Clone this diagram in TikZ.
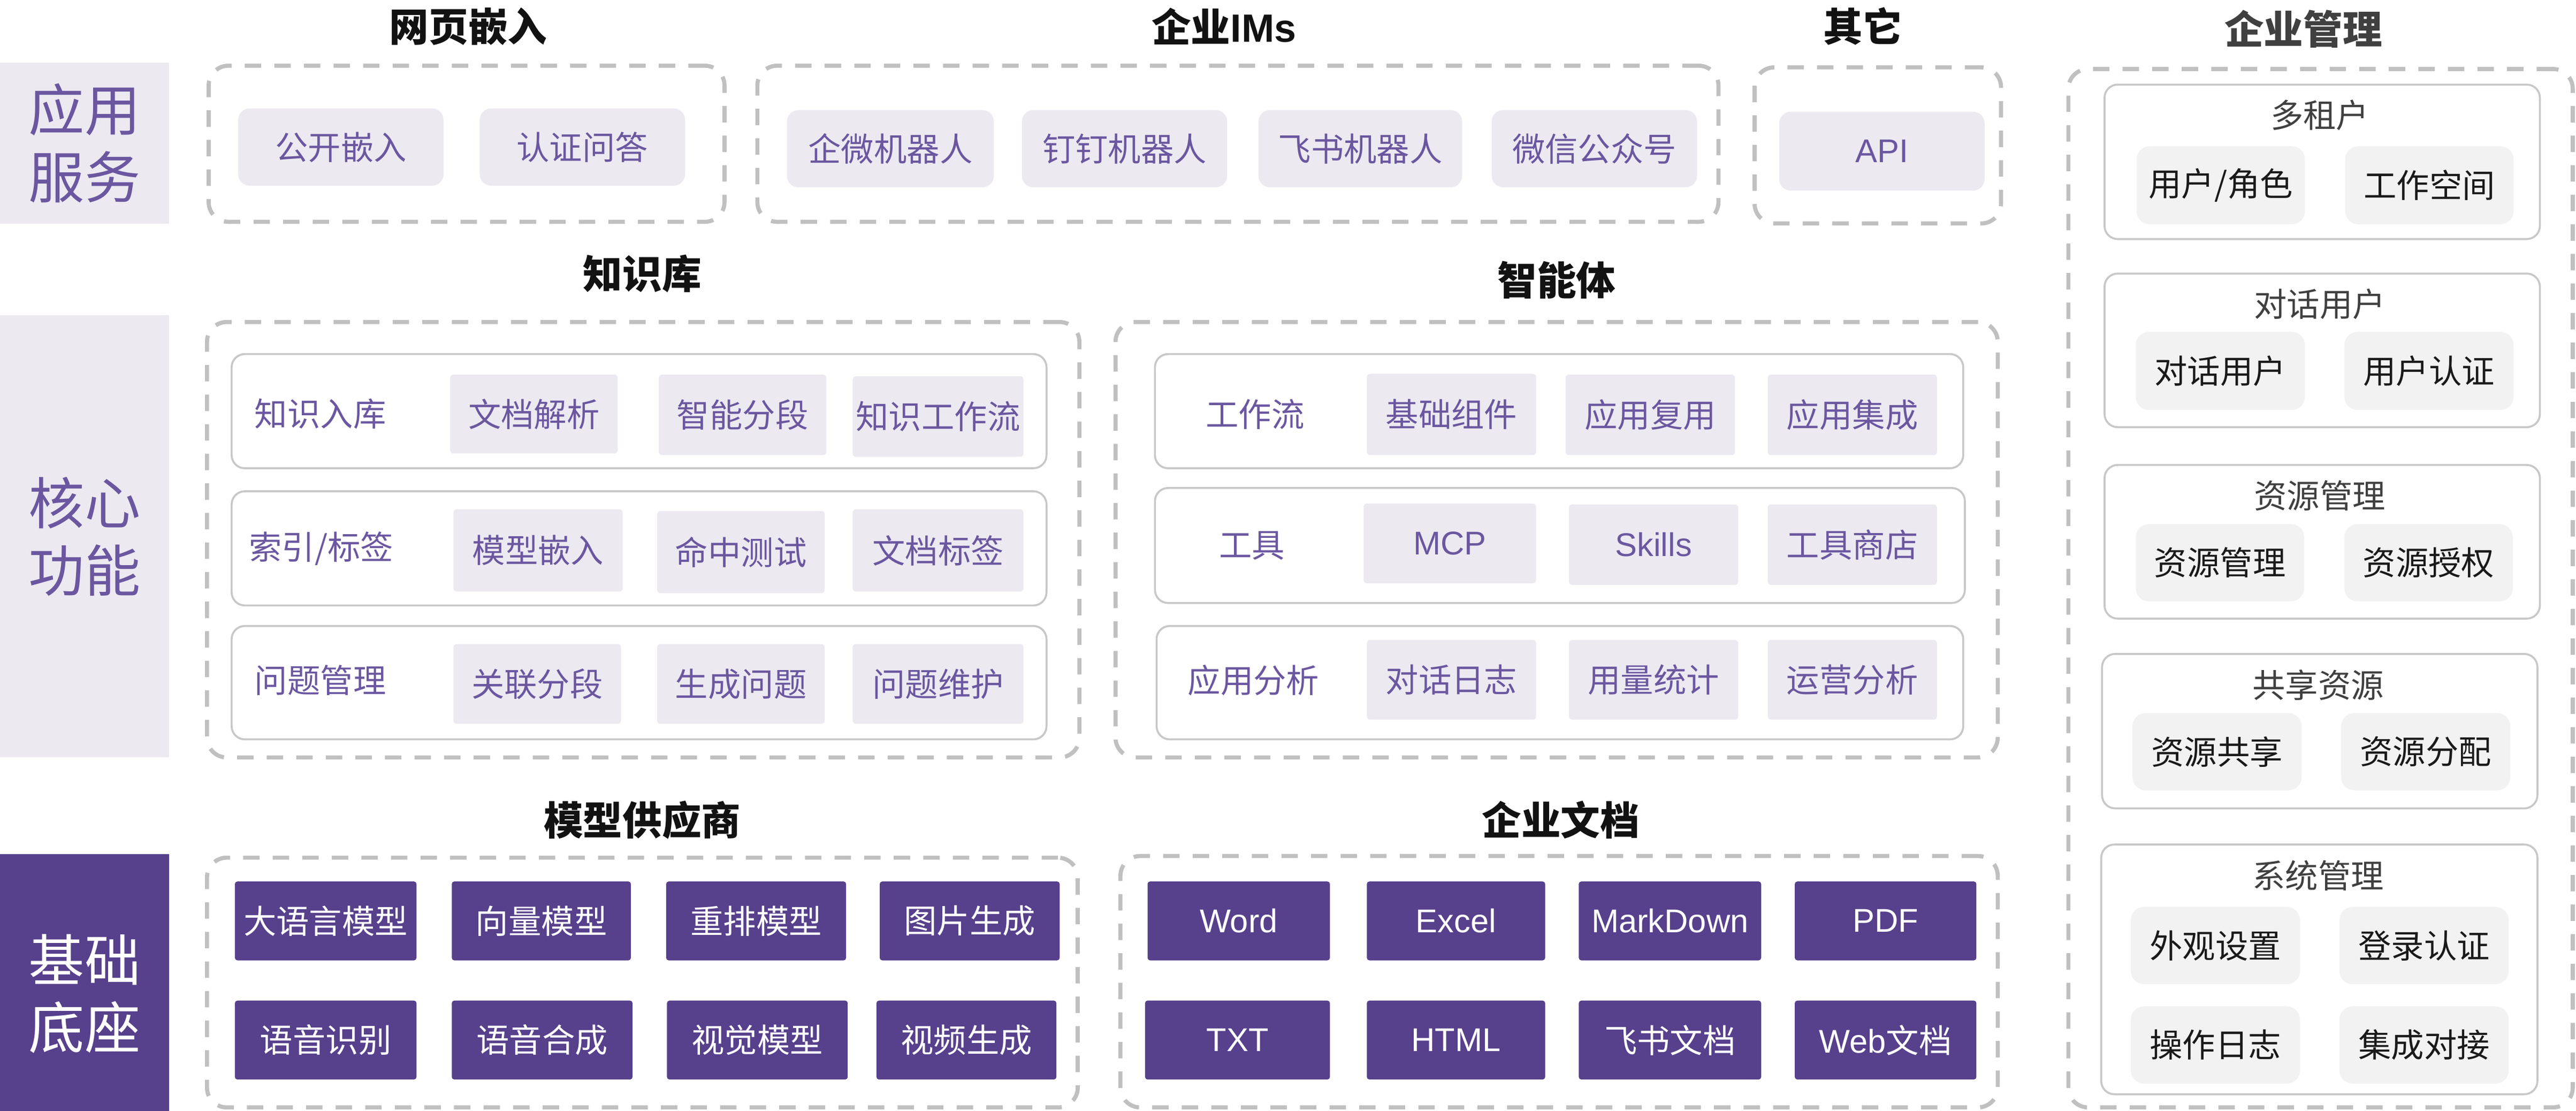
\documentclass[tikz,border=0pt]{standalone}
\usepackage{fontspec}
\setmainfont{Noto Sans CJK SC}
\newfontfamily\lat{Liberation Sans}
\definecolor{lav}{RGB}{236,233,241}
\definecolor{purp}{RGB}{107,87,160}
\definecolor{dpurp}{RGB}{87,64,140}
\definecolor{dashgray}{RGB}{192,192,192}
\definecolor{pgray}{RGB}{200,200,200}
\definecolor{mgray}{RGB}{242,242,242}
\definecolor{mtext}{RGB}{26,26,26}
\definecolor{dgray}{RGB}{64,64,64}
\newcommand\itemfont{\fontsize{20}{24}\selectfont}
\newcommand\titlefont{\fontsize{24}{28}\selectfont\bfseries}
\newcommand\barfont{\fontsize{34}{41}\selectfont}
\newcommand\mybox[7]{\node[#1, minimum width={#5pt-#3pt}, minimum height={#6pt-#4pt}] (#2) at ({(#3+#5)/2},{(#4+#6)/2}) {#7};}
\tikzset{
 every node/.style={inner sep=0pt, outer sep=0pt},
 grp/.style={draw=dashgray, line width=2.5pt, dash pattern=on 10pt off 8pt, rounded corners=12pt},
 rowbox/.style={draw=pgray, line width=1.2pt, rounded corners=8pt, fill=white},
 appitem/.style={fill=lav, text=purp, rounded corners=7pt, font=\itemfont},
 coreitem/.style={fill=lav, text=purp, rounded corners=2pt, font=\itemfont},
 baseitem/.style={fill=dpurp, text=white, rounded corners=1.5pt, font=\itemfont},
 mgitem/.style={fill=mgray, text=mtext, rounded corners=8pt, font=\itemfont},
 rowlabel/.style={text=purp, font=\itemfont},
 ptitle/.style={text=dgray, font=\itemfont},
 ttl/.style={font=\titlefont, text=black!93},
 barlight/.style={fill=lav, text=purp, font=\barfont, align=center},
 bardark/.style={fill=dpurp, text=white, font=\barfont, align=center},
}
\begin{document}
\begin{tikzpicture}[x=1pt,y=-1pt]
\useasboundingbox (0,0) rectangle (1568,676);
% left bars
\mybox{barlight}{L1}{0}{38}{103}{136}{应用\\服务}
\mybox{barlight}{L2}{0}{192}{103}{461}{核心\\功能}
\mybox{bardark}{L3}{0}{520}{103}{690}{基础\\底座}
% groups
\mybox{grp}{G1}{127}{40}{441}{135}{}
\mybox{grp}{G2}{461}{40}{1046}{135}{}
\mybox{grp}{G3}{1068}{41}{1218}{136}{}
\mybox{grp}{G4}{1259}{42}{1566}{674}{}
\mybox{grp}{G5}{126}{196}{657}{461}{}
\mybox{grp}{G6}{679}{196}{1216}{461}{}
\mybox{grp}{G7}{126}{522}{656}{674}{}
\mybox{grp}{G8}{682}{521}{1216}{674}{}
% titles
\node[ttl] (T1) at (285,16) {网页嵌入};
\node[ttl] (T2) at (745,16) {企业{\lat IMs}};
\node[ttl] (T3) at (1134,16) {其它};
\node[ttl, text=dgray] (T4) at (1402,17.5) {企业管理};
\node[ttl] (T5) at (391,166.5) {知识库};
\node[ttl] (T6) at (947.5,170.5) {智能体};
\node[ttl] (T7) at (391,499) {模型供应商};
\node[ttl] (T8) at (950,499) {企业文档};
% application items
\mybox{appitem}{a1}{145}{66}{270}{113}{公开嵌入}
\mybox{appitem}{a2}{292}{66}{417}{113}{认证问答}
\mybox{appitem}{a3}{479}{67}{605}{114}{企微机器人}
\mybox{appitem}{a4}{622}{67}{747}{114}{钉钉机器人}
\mybox{appitem}{a5}{766}{67}{890}{114}{飞书机器人}
\mybox{appitem}{a6}{908}{67}{1033}{114}{微信公众号}
\mybox{appitem}{a7}{1083}{68}{1208}{116}{\lat API}
% core rows
\mybox{rowbox}{K1}{141}{215.5}{637}{285}{}
\mybox{rowbox}{K2}{141}{299}{637}{368.5}{}
\mybox{rowbox}{K3}{141}{381}{637}{450}{}
\mybox{rowbox}{A1}{703}{215.5}{1195}{285}{}
\mybox{rowbox}{A2}{703}{297}{1196}{367}{}
\mybox{rowbox}{A3}{704}{381}{1195}{450}{}
\node[rowlabel] (k1l) at (195,252) {知识入库};
\node[rowlabel] (k2l) at (195.5,334) {索引/标签};
\node[rowlabel] (k3l) at (195,414) {问题管理};
\node[rowlabel] (a1l) at (764,252) {工作流};
\node[rowlabel] (a2l) at (762,332) {工具};
\node[rowlabel] (a3l) at (763,414) {应用分析};
% knowledge items
\mybox{coreitem}{k11}{274}{228}{376}{276}{文档解析}
\mybox{coreitem}{k12}{401}{228}{503}{277}{智能分段}
\mybox{coreitem}{k13}{519}{229}{623}{278}{知识工作流}
\mybox{coreitem}{k21}{276}{310}{379}{360}{模型嵌入}
\mybox{coreitem}{k22}{400}{311}{502}{361}{命中测试}
\mybox{coreitem}{k23}{519}{310}{623}{360}{文档标签}
\mybox{coreitem}{k31}{276}{392}{378}{440.5}{关联分段}
\mybox{coreitem}{k32}{400}{392}{502}{440.5}{生成问题}
\mybox{coreitem}{k33}{519}{392}{623}{440.5}{问题维护}
% agent items
\mybox{coreitem}{g11}{832}{227.5}{935}{277}{基础组件}
\mybox{coreitem}{g12}{953}{228}{1056}{277}{应用复用}
\mybox{coreitem}{g13}{1076}{228}{1179}{277}{应用集成}
\mybox{coreitem}{g21}{830}{306.5}{935}{355}{\lat MCP}
\mybox{coreitem}{g22}{955}{307}{1058}{356}{\lat Skills}
\mybox{coreitem}{g23}{1076}{307}{1179}{356}{工具商店}
\mybox{coreitem}{g31}{832}{389.5}{935}{438}{对话日志}
\mybox{coreitem}{g32}{955}{389.5}{1058}{438}{用量统计}
\mybox{coreitem}{g33}{1076}{389.5}{1179}{438}{运营分析}
% model providers
\mybox{baseitem}{m1}{143}{536.5}{253.5}{584.5}{大语言模型}
\mybox{baseitem}{m2}{275}{536.5}{384}{584.5}{向量模型}
\mybox{baseitem}{m3}{405.5}{536.5}{515}{584.5}{重排模型}
\mybox{baseitem}{m4}{535.5}{536.5}{645}{584.5}{图片生成}
\mybox{baseitem}{m5}{143}{609}{253.5}{657}{语音识别}
\mybox{baseitem}{m6}{275}{609}{385}{657}{语音合成}
\mybox{baseitem}{m7}{406}{609}{516}{657}{视觉模型}
\mybox{baseitem}{m8}{533.5}{609}{643}{657}{视频生成}
% documents
\mybox{baseitem}{d1}{698.5}{536.5}{809.5}{584.5}{\lat Word}
\mybox{baseitem}{d2}{832}{536.5}{940.5}{584.5}{\lat Excel}
\mybox{baseitem}{d3}{961}{536.5}{1072}{584.5}{\lat MarkDown}
\mybox{baseitem}{d4}{1092.5}{536.5}{1203}{584.5}{\lat PDF}
\mybox{baseitem}{d5}{697}{609}{809.5}{657}{\lat TXT}
\mybox{baseitem}{d6}{832}{609}{940.5}{657}{\lat HTML}
\mybox{baseitem}{d7}{961}{609}{1072}{657}{飞书文档}
\mybox{baseitem}{d8}{1092.5}{609}{1203}{657}{{\lat Web}文档}
% management panels
\mybox{rowbox}{P1}{1281}{51.5}{1546}{145.5}{}
\mybox{rowbox}{P2}{1281}{166.5}{1546}{260}{}
\mybox{rowbox}{P3}{1281}{283}{1546}{376.5}{}
\mybox{rowbox}{P4}{1279.5}{398}{1544.5}{492}{}
\mybox{rowbox}{P5}{1279}{514}{1544.5}{666}{}
\node[ptitle] (p1t) at (1412,70) {多租户};
\node[ptitle] (p2t) at (1412,185) {对话用户};
\node[ptitle] (p3t) at (1412,301.5) {资源管理};
\node[ptitle] (p4t) at (1411,417) {共享资源};
\node[ptitle] (p5t) at (1411,533) {系统管理};
\mybox{mgitem}{p11}{1300.5}{89}{1403}{136.5}{用户/角色}
\mybox{mgitem}{p12}{1427.5}{89}{1530}{136.5}{工作空间}
\mybox{mgitem}{p21}{1300}{202}{1403}{249.5}{对话用户}
\mybox{mgitem}{p22}{1427}{202}{1530}{249.5}{用户认证}
\mybox{mgitem}{p31}{1300}{319}{1402.5}{366}{资源管理}
\mybox{mgitem}{p32}{1427}{319}{1529.5}{366}{资源授权}
\mybox{mgitem}{p41}{1298}{434}{1401}{481}{资源共享}
\mybox{mgitem}{p42}{1425}{434}{1528}{481}{资源分配}
\mybox{mgitem}{p51}{1297}{552}{1400}{599}{外观设置}
\mybox{mgitem}{p52}{1424}{552}{1527}{599}{登录认证}
\mybox{mgitem}{p53}{1297}{612.5}{1400}{659.5}{操作日志}
\mybox{mgitem}{p54}{1424}{612.5}{1527}{659.5}{集成对接}
\end{tikzpicture}
\end{document}
